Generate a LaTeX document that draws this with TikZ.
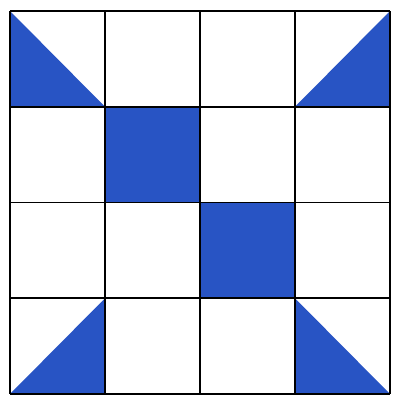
\documentclass[tikz,border=0pt]{standalone}
\definecolor{quiltblue}{RGB}{40,84,196}
\begin{document}
\begin{tikzpicture}[x=1pt,y=-1pt,
  patch/.style={fill=quiltblue,draw=none},
  gridline/.style={line width=1.8pt,draw=black}]
\useasboundingbox (0,0) rectangle (393,400);
\fill[white] (0,0) rectangle (393,400);
% grid coordinates
\coordinate (o) at (10,11);
\def\cw{95}
\def\ch{95.75}
% blue squares
\fill[patch] (10+\cw,11+\ch) rectangle (10+2*\cw,11+2*\ch);
\fill[patch] (10+2*\cw,11+2*\ch) rectangle (10+3*\cw,11+3*\ch);
% triangles
\fill[patch] (10,11) -- (10,11+\ch) -- (10+\cw,11+\ch) -- cycle;
\fill[patch] (390,11) -- (390,11+\ch) -- (390-\cw,11+\ch) -- cycle;
\fill[patch] (10+\cw,394-\ch) -- (10+\cw,394) -- (10,394) -- cycle;
\fill[patch] (390-\cw,394-\ch) -- (390-\cw,394) -- (390,394) -- cycle;
% grid
\foreach \i in {0,...,4} {
  \draw[gridline] (10+\i*\cw,11) -- (10+\i*\cw,394);
  \draw[gridline] (10,11+\i*\ch) -- (390,11+\i*\ch);
}
\end{tikzpicture}
\end{document}
